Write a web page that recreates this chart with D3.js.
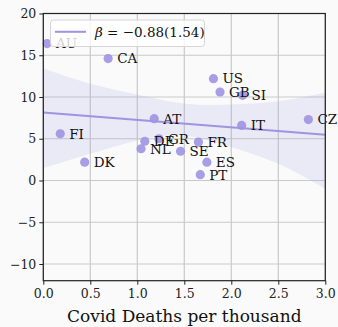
<!DOCTYPE html>
<html>
<head>
<meta charset="utf-8">
<script src="https://cdn.jsdelivr.net/npm/d3@7"></script>
<style>
  html, body { margin: 0; padding: 0; background: #fafafa; }
  svg { display: block; font-family: "DejaVu Serif", "Liberation Serif", serif; }
</style>
</head>
<body>
<svg id="chart" width="338" height="327"></svg>
<script>
// Countries and their values
const countries = ["AU", "CA", "FI", "DK", "NL", "DE", "GR", "AT", "SE", "FR", "ES", "PT", "US", "GB", "SI", "IT", "CZ"];
const deaths = [0.04, 0.69, 0.18, 0.44, 1.04, 1.08, 1.23, 1.18, 1.46, 1.65, 1.74, 1.67, 1.81, 1.88, 2.12, 2.11, 2.82];
const yValues = [16.4, 14.6, 5.6, 2.2, 3.8, 4.7, 5.0, 7.4, 3.5, 4.6, 2.2, 0.7, 12.2, 10.6, 10.2, 6.6, 7.3];

// Fitted line and its confidence band
const fitX = [0, 3];
const fitY = [8.13, 5.48];
const bandX = [0, 0.5, 1.0, 1.5, 2.0, 2.5, 3.0];
const bandUpper = [13.4, 11.6, 10.3, 9.2, 9.1, 9.5, 10.5];
const bandLower = [1.5, 3.2, 4.8, 5.4, 4.0, 2.0, -1.0];

const xTicks = [0, 0.5, 1.0, 1.5, 2.0, 2.5, 3.0];
const yTicks = [-10, -5, 0, 5, 10, 15, 20];
const legendLabel = "β = −0.88(1.54)";
const xLabel = "Covid Deaths per thousand";

const svg = d3.select("#chart");
const plotLeft = 43.3, plotRight = 325.3, plotTop = 13.5, plotBottom = 280.7;

const x = d3.scaleLinear().domain([0, 3]).range([plotLeft, plotRight]);
const y = d3.scaleLinear().domain([-12, 20]).range([plotBottom, plotTop]);

const purple = "#9d94e2";

// grid
const grid = svg.append("g").attr("stroke", "#c9c9c9").attr("stroke-width", 1.2);
grid.selectAll("line.v").data(xTicks).join("line").attr("class", "v")
  .attr("x1", d => x(d)).attr("x2", d => x(d)).attr("y1", plotTop).attr("y2", plotBottom);
grid.selectAll("line.h").data(yTicks).join("line").attr("class", "h")
  .attr("y1", d => y(d)).attr("y2", d => y(d)).attr("x1", plotLeft).attr("x2", plotRight);

// confidence band
const bandData = bandX.map((d, i) => ({x: d, lo: bandLower[i], hi: bandUpper[i]}));
svg.append("path").datum(bandData)
  .attr("fill", purple).attr("fill-opacity", 0.17)
  .attr("d", d3.area().curve(d3.curveNatural)
    .x(d => x(d.x)).y0(d => y(d.lo)).y1(d => y(d.hi)));

// fitted line
svg.append("line")
  .attr("x1", x(fitX[0])).attr("y1", y(fitY[0]))
  .attr("x2", x(fitX[1])).attr("y2", y(fitY[1]))
  .attr("stroke", purple).attr("stroke-width", 2);

// points
const pts = countries.map((c, i) => ({c, x: deaths[i], y: yValues[i]}));
svg.append("g").selectAll("circle").data(pts).join("circle")
  .attr("cx", d => x(d.x)).attr("cy", d => y(d.y)).attr("r", 4.6)
  .attr("fill", purple).attr("fill-opacity", 0.9);

// labels
svg.append("g").selectAll("text").data(pts).join("text")
  .attr("x", d => x(d.x) + 9).attr("y", d => y(d.y))
  .attr("dy", "0.36em")
  .attr("font-size", 13.5).attr("fill", "#111")
  .text(d => d.c);

// legend
const lg = svg.append("g");
lg.append("rect").attr("x", 50.5).attr("y", 20).attr("width", 154).attr("height", 26.5)
  .attr("rx", 3).attr("fill", "#ffffff").attr("fill-opacity", 0.8)
  .attr("stroke", "#d6d6d6").attr("stroke-width", 1);
lg.append("line").attr("x1", 55).attr("x2", 86).attr("y1", 31.8).attr("y2", 31.8)
  .attr("stroke", purple).attr("stroke-width", 2);
const lt = lg.append("text").attr("x", 95).attr("y", 36.5).attr("font-size", 13.5).attr("fill", "#111");
lt.append("tspan").attr("font-style", "italic").text(legendLabel.slice(0, 1));
lt.append("tspan").text(legendLabel.slice(1));

// axes
const xAxis = svg.append("g").attr("transform", `translate(0,${plotBottom})`)
  .call(d3.axisBottom(x).tickValues(xTicks).tickFormat(d3.format(".1f")).tickSize(4).tickPadding(4));
const yAxis = svg.append("g").attr("transform", `translate(${plotLeft},0)`)
  .call(d3.axisLeft(y).tickValues(yTicks).tickFormat(d => d < 0 ? "−" + Math.abs(d) : d).tickSize(4).tickPadding(3));
[xAxis, yAxis].forEach(a => {
  a.select(".domain").remove();
  a.selectAll("line").attr("stroke", "#222").attr("stroke-width", 1);
  a.selectAll("text").attr("font-family", "DejaVu Serif, serif").attr("font-size", 12.5).attr("fill", "#222");
});

// frame
svg.append("rect").attr("x", plotLeft).attr("y", plotTop)
  .attr("width", plotRight - plotLeft).attr("height", plotBottom - plotTop)
  .attr("fill", "none").attr("stroke", "#222").attr("stroke-width", 1.2);

svg.append("text").attr("x", (plotLeft + plotRight) / 2).attr("y", 322)
  .attr("text-anchor", "middle").attr("font-size", 17).attr("fill", "#111")
  .text(xLabel);
</script>
</body>
</html>
